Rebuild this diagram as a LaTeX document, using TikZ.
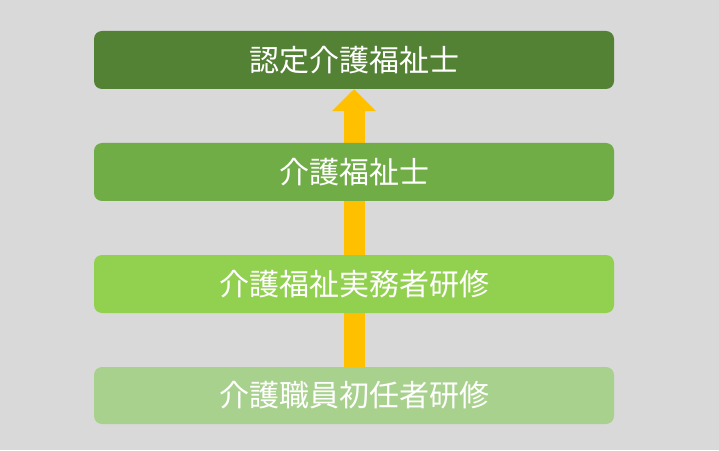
\documentclass[tikz,border=0pt]{standalone}
\usepackage{fontspec}
\newfontfamily\cjk{Noto Sans CJK JP}
\usepackage{xcolor}
\usepackage{tikz}
\usetikzlibrary{arrows.meta,backgrounds,positioning}
\definecolor{bgGray}{HTML}{D9D9D9}
\definecolor{lvOne}{HTML}{548235}
\definecolor{lvTwo}{HTML}{70AD47}
\definecolor{lvThree}{HTML}{92D050}
\definecolor{lvFour}{HTML}{A9D18E}
\definecolor{upArrow}{HTML}{FFC000}
\tikzset{LV box/.style={rectangle,rounded corners=8pt,minimum width=520pt,minimum height=58pt,inner sep=0pt,text=white,font=\cjk\fontsize{30}{30}\selectfont}}

\begin{document}
\begin{tikzpicture}[x=1pt,y=1pt]
			\useasboundingbox (0,0) rectangle (719,450);
			
			\node[LV box, fill=lvOne] (nintei) at (354,390) {認定介護福祉士};
			\node[LV box, fill=lvTwo] (fukushi) at (354,278) {介護福祉士};
			\node[LV box, fill=lvThree] (jitsumu) at (354,166) {介護福祉実務者研修};
			\node[LV box, fill=lvFour, minimum height=57pt] (shonin) at (354,54.5) {介護職員初任者研修};
			
			\begin{scope}[on background layer]
				\fill[bgGray] (0,0) rectangle (719,450);
				%		shaft behind the boxes
				\draw[upArrow, line width=21pt, arrows = {-Triangle[width=43pt, length=22pt]}] (shonin.north) -- (nintei.south);
			\end{scope}
		\end{tikzpicture}
\end{document}
